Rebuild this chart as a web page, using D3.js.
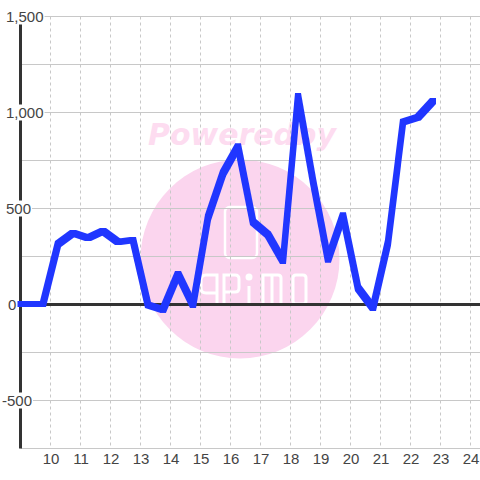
<!DOCTYPE html>
<html>
<head>
<meta charset="utf-8">
<script src="https://cdnjs.cloudflare.com/ajax/libs/d3/7.8.5/d3.min.js"></script>
<style>
html, body { margin: 0; padding: 0; background: #fff; }
svg { display: block; }
text { font-family: "Liberation Sans", Arial, sans-serif; }
</style>
</head>
<body>
<div id="chart"></div>
<script>
var hours = [9, 9.75, 10.25, 10.75, 11.25, 11.75, 12.25, 12.75, 13.25, 13.75, 14.25, 14.75, 15.25, 15.75, 16.25,
             16.75, 17.25, 17.75, 18.25, 18.75, 19.25, 19.75, 20.25, 20.75, 21.25, 21.75, 22.25, 22.75];
var values = [3, 2, 315, 373, 347, 383, 326, 336, -3, -27, 159, -2, 453, 683, 823,
              430, 363, 227, 1086, 643, 234, 464, 86, -18, 321, 951, 975, 1060];
var xTicks = [10, 11, 12, 13, 14, 15, 16, 17, 18, 19, 20, 21, 22, 23, 24];
var yGrid = [1500, 1250, 1000, 750, 500, 250, 0, -250, -500, -750];
var yLabelled = [1500, 1000, 500, 0, -500];
var yLabels = ["1,500", "1,000", "500", "0", "-500"];

var width = 480, height = 480;
var margin = {left: 20.5, top: 16.5, bottom: 31.5};
var penSize = 6;

var svg = d3.select("#chart").append("svg")
    .attr("width", width)
    .attr("height", height);

var x = d3.scaleLinear().domain([9, 25]).range([margin.left, margin.left + 480]);
var y = d3.scaleLinear().domain([-750, 1500]).range([height - margin.bottom, margin.top]);

// watermark sits under everything
var wm = svg.append("g");
wm.append("circle")
    .attr("cx", 240).attr("cy", 259).attr("r", 99.5)
    .attr("fill", "#fbd5ee");
wm.append("rect")
    .attr("x", 225).attr("y", 207).attr("width", 32).attr("height", 51).attr("rx", 5)
    .attr("fill", "none").attr("stroke", "#fff").attr("stroke-width", 2.5);
wm.append("text")
    .attr("x", 148).attr("y", 145)
    .attr("textLength", 188).attr("lengthAdjust", "spacingAndGlyphs")
    .style("font-family", "DejaVu Sans").style("font-weight", "bold").style("font-style", "oblique").style("font-size", "31px")
    .attr("fill", "#fddcf0")
    .text("Poweredby");
// logo lettering, hand drawn strokes
wm.append("path")
    .attr("d", "M217,304V275H206Q201,275 201,280V288Q201,293 206,293H218"
        + "M224,304V275H235Q239,275 239,279V288Q239,292 235,292H224"
        + "M249,286V304"
        + "M263,304V275H278Q281,275 281,278V304M272,275V304"
        + "M296,275H303Q306,275 306,278V301Q306,304 303,304H296Q293,304 293,301V278Q293,275 296,275Z")
    .attr("fill", "none").attr("stroke", "#fff").attr("stroke-width", 3);
wm.append("circle")
    .attr("cx", 249).attr("cy", 277).attr("r", 3.5)
    .attr("fill", "#fff");

// grid
svg.append("g")
    .selectAll("line")
    .data(xTicks)
    .enter().append("line")
    .attr("x1", function(d) { return x(d); })
    .attr("x2", function(d) { return x(d); })
    .attr("y1", y(1500))
    .attr("y2", y(-750))
    .attr("stroke", "#c8c8c8")
    .attr("stroke-dasharray", "3,3");

svg.append("g")
    .selectAll("line")
    .data(yGrid)
    .enter().append("line")
    .attr("x1", margin.left)
    .attr("x2", width)
    .attr("y1", function(d) { return y(d); })
    .attr("y2", function(d) { return y(d); })
    .attr("stroke", "#c8c8c8");

// axis lines
svg.append("line")
    .attr("x1", margin.left).attr("x2", margin.left)
    .attr("y1", y(1500)).attr("y2", y(-750))
    .attr("stroke", "#333").attr("stroke-width", 3);
svg.append("line")
    .attr("x1", margin.left).attr("x2", width)
    .attr("y1", y(0)).attr("y2", y(0))
    .attr("stroke", "#333").attr("stroke-width", 3);

// x tick labels
var xAxis = d3.axisBottom(x).tickValues(xTicks).tickSize(0).tickPadding(0).tickFormat(d3.format("d"));
var gx = svg.append("g")
    .attr("transform", "translate(0," + (y(-750) + 5) + ")")
    .call(xAxis);
gx.select(".domain").remove();
gx.selectAll("text")
    .style("font-family", '"Liberation Sans", Arial, sans-serif')
    .style("font-size", "15px")
    .attr("fill", "#444");

// y tick labels have a white box that cuts the axis and grid
var yl = svg.append("g").selectAll("g")
    .data(yLabelled)
    .enter().append("g")
    .attr("transform", function(d) { return "translate(0," + y(d) + ")"; });
yl.append("text")
    .attr("x", function(d, i) {
        if (yLabels[i] === "0") return 8;
        return yLabels[i].charAt(0) === "-" ? 2 : 6;
    })
    .attr("dy", "0.35em")
    .style("font-size", "15px")
    .attr("fill", "#444")
    .text(function(d, i) { return yLabels[i]; });
yl.each(function() {
    var t = d3.select(this).select("text");
    var b = t.node().getBBox();
    d3.select(this).insert("rect", "text")
        .attr("x", b.x).attr("y", -8)
        .attr("width", b.width + 1).attr("height", 16)
        .attr("fill", "#fff");
});

// the series is drawn with a square pen, not a round stroke:
// each segment is the hull of the pen square at both of its ends
function penCorners(i) {
    var px = x(hours[i]), py = y(values[i]), h = penSize / 2;
    return [[px - h, py - h], [px + h, py - h], [px + h, py + h], [px - h, py + h]];
}
var segments = d3.pairs(d3.range(hours.length));

svg.append("g")
    .selectAll("path")
    .data(segments)
    .enter().append("path")
    .attr("d", function(d) {
        return "M" + d3.polygonHull(penCorners(d[0]).concat(penCorners(d[1]))).join("L") + "Z";
    })
    .attr("fill", "#2036ff");
</script>
</body>
</html>
